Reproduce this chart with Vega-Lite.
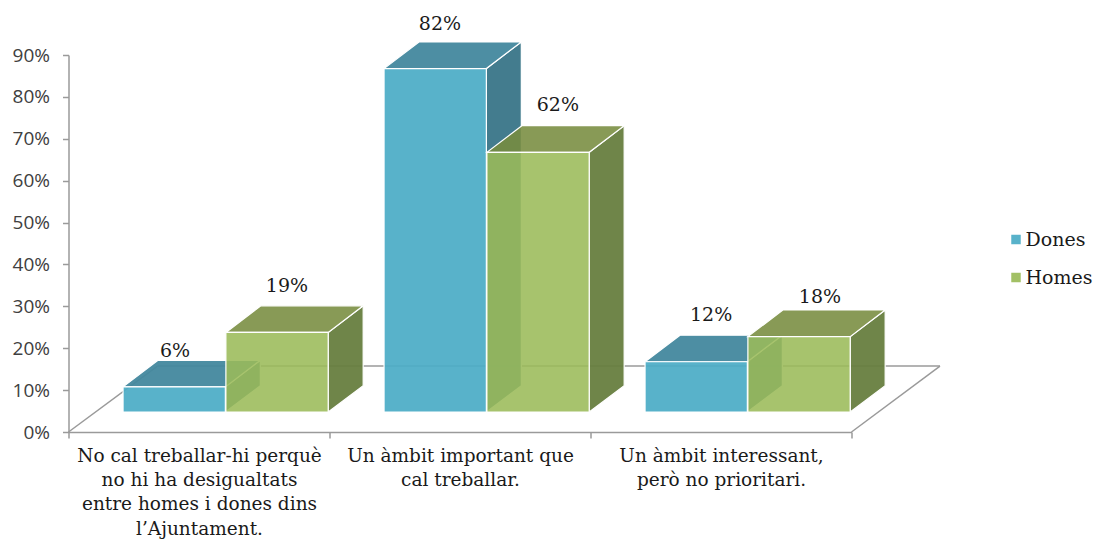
{
"$schema":"https://vega.github.io/schema/vega-lite/v6.json",
"width":783,"height":377,
"autosize":{"type":"none"},
"padding":{"left":68.5,"top":55,"right":242.5,"bottom":107},
"background":"white",
"config":{"view":{"stroke":null},"font":"DejaVu Serif"},
"data":{"values":[
{"ambit":"No cal treballar-hi","idx":0,"serie":"Dones","valor":0.06},
{"ambit":"Un àmbit important","idx":1,"serie":"Dones","valor":0.82},
{"ambit":"Un àmbit interessant","idx":2,"serie":"Dones","valor":0.12},
{"ambit":"No cal treballar-hi","idx":0,"serie":"Homes","valor":0.19},
{"ambit":"Un àmbit important","idx":1,"serie":"Homes","valor":0.62},
{"ambit":"Un àmbit interessant","idx":2,"serie":"Homes","valor":0.18}
]},
"transform":[
{"calculate":"datum.idx+(datum.serie==='Dones'?0.209:0.603)","as":"x0"},
{"calculate":"datum.x0+0.392","as":"x1"},
{"calculate":"datum.x1+0.134","as":"x1b"},
{"calculate":"0.0477","as":"yb"},
{"calculate":"0.1107","as":"ybb"},
{"calculate":"datum.valor+0.0477","as":"yt"},
{"calculate":"datum.yt+0.0635","as":"ytb"},
{"calculate":"(datum.serie==='Dones'?[0.408,1.423,2.462]:[0.837,1.875,2.879])[datum.idx]","as":"lx"},
{"calculate":"datum.yt+0.062+(datum.serie==='Dones'?[0.0236,0.044,0.049]:[0.049,0.05,0.032])[datum.idx]","as":"ly"}
],
"layer":[
{"data":{"values":[{}]},"mark":{"type":"rule","color":"#9a9a9a","strokeWidth":1.5},
 "encoding":{
  "x":{"datum":0,"type":"quantitative","title":null,"scale":{"domain":[0,3],"nice":false,"zero":false},
   "axis":{"values":[0,0.5,1,1.5,2,2.5,3],"grid":false,"title":null,"domainColor":"#9a9a9a","domainWidth":1.5,"tickColor":"#9a9a9a","tickWidth":1.5,"tickSize":6,
    "tickOpacity":{"condition":{"test":"datum.value%1!==0","value":0},"value":1},
    "labelFont":"DejaVu Serif","labelFontSize":18.5,"labelColor":"#1a1a1a","labelPadding":8.5,"labelLineHeight":24.2,"labelOverlap":false,"labelFlush":false,"labelBound":false,"labelAngle":0,"labelLimit":400,
    "labelExpr":"datum.value===0.5?['No cal treballar-hi perquè','no hi ha desigualtats','entre homes i dones dins','l’Ajuntament.']:datum.value===1.5?['Un àmbit important que','cal treballar.']:datum.value===2.5?['Un àmbit interessant,','però no prioritari.']:''"}},
  "x2":{"datum":0.341},
  "y":{"datum":0,"type":"quantitative","title":null,"scale":{"domain":[0,0.9],"nice":false,"zero":false},
   "axis":{"values":[0,0.1,0.2,0.3,0.4,0.5,0.6,0.7,0.8,0.9],"format":".0%","grid":false,"title":null,"domainColor":"#9a9a9a","domainWidth":1.5,"tickColor":"#9a9a9a","tickWidth":1.5,"tickSize":6,
    "labelFont":"Open Sans","labelFontSize":19,"labelColor":"#404040","labelPadding":13}},
  "y2":{"datum":0.1575}}},
{"data":{"values":[{}]},"mark":{"type":"rule","color":"#9a9a9a","strokeWidth":1.5},
 "encoding":{"x":{"datum":0.341,"type":"quantitative","scale":{"domain":[0,3],"nice":false,"zero":false}},"x2":{"datum":3.339},
  "y":{"datum":0.1575,"type":"quantitative","scale":{"domain":[0,0.9],"nice":false,"zero":false}}}},
{"data":{"values":[{}]},"mark":{"type":"rule","color":"#9a9a9a","strokeWidth":1.5},
 "encoding":{"x":{"datum":3,"type":"quantitative","scale":{"domain":[0,3],"nice":false,"zero":false}},"x2":{"datum":3.339},
  "y":{"datum":0,"type":"quantitative","scale":{"domain":[0,0.9],"nice":false,"zero":false}},"y2":{"datum":0.1575}}},

{"transform":[{"filter":"datum.serie==='Dones'"},{"fold":["x1","x1b"],"as":["k","xp"]},
  {"calculate":"datum.k==='x1'?datum.yb:datum.ybb","as":"ylo"},{"calculate":"datum.k==='x1'?datum.yt:datum.ytb","as":"yhi"}],
 "mark":{"type":"area","orient":"vertical","color":"#397588","fillOpacity":0.95,"stroke":"white","strokeWidth":1.2},
 "encoding":{"x":{"field":"xp","type":"quantitative","scale":{"domain":[0,3],"nice":false,"zero":false}},
  "y":{"field":"ylo","type":"quantitative","stack":null,"scale":{"domain":[0,0.9],"nice":false,"zero":false}},"y2":{"field":"yhi"},"detail":{"field":"idx"}}},
{"transform":[{"filter":"datum.serie==='Dones'"},{"fold":["yt","ytb"],"as":["k","yp"]},
  {"calculate":"datum.k==='yt'?datum.x0:datum.x0+0.134","as":"xl"},{"calculate":"datum.k==='yt'?datum.x1:datum.x1b","as":"xr"}],
 "mark":{"type":"area","orient":"horizontal","color":"#43889E","fillOpacity":0.95,"stroke":"white","strokeWidth":1.2},
 "encoding":{"y":{"field":"yp","type":"quantitative","scale":{"domain":[0,0.9],"nice":false,"zero":false}},
  "x":{"field":"xl","type":"quantitative","stack":null,"scale":{"domain":[0,3],"nice":false,"zero":false}},"x2":{"field":"xr"},"detail":{"field":"idx"}}},
{"transform":[{"filter":"datum.serie==='Dones'"}],
 "mark":{"type":"rect","fillOpacity":0.93,"stroke":"white","strokeWidth":1.2},
 "encoding":{"x":{"field":"x0","type":"quantitative","scale":{"domain":[0,3],"nice":false,"zero":false}},"x2":{"field":"x1"},
  "y":{"field":"yb","type":"quantitative","scale":{"domain":[0,0.9],"nice":false,"zero":false}},"y2":{"field":"yt"},
  "color":{"field":"serie","type":"nominal","scale":{"domain":["Dones","Homes"],"range":["#4BACC6","#9BBB59"]},
   "legend":{"title":null,"orient":"none","legendX":938,"legendY":175,"symbolType":"square","symbolSize":90,"symbolStrokeWidth":0,"symbolOpacity":0.93,"labelFont":"DejaVu Serif","labelFontSize":19,"labelColor":"#1a1a1a","rowPadding":18,"labelOffset":0,"labelLimit":120}}}},

{"transform":[{"filter":"datum.serie==='Homes'"},{"fold":["x1","x1b"],"as":["k","xp"]},
  {"calculate":"datum.k==='x1'?datum.yb:datum.ybb","as":"ylo"},{"calculate":"datum.k==='x1'?datum.yt:datum.ytb","as":"yhi"}],
 "mark":{"type":"area","orient":"vertical","color":"#677E3F","fillOpacity":0.95,"stroke":"white","strokeWidth":1.2},
 "encoding":{"x":{"field":"xp","type":"quantitative","scale":{"domain":[0,3],"nice":false,"zero":false}},
  "y":{"field":"ylo","type":"quantitative","stack":null,"scale":{"domain":[0,0.9],"nice":false,"zero":false}},"y2":{"field":"yhi"},"detail":{"field":"idx"}}},
{"transform":[{"filter":"datum.serie==='Homes'"},{"fold":["yt","ytb"],"as":["k","yp"]},
  {"calculate":"datum.k==='yt'?datum.x0:datum.x0+0.134","as":"xl"},{"calculate":"datum.k==='yt'?datum.x1:datum.x1b","as":"xr"}],
 "mark":{"type":"area","orient":"horizontal","color":"#778C3F","fillOpacity":0.88,"stroke":"white","strokeWidth":1.2},
 "encoding":{"y":{"field":"yp","type":"quantitative","scale":{"domain":[0,0.9],"nice":false,"zero":false}},
  "x":{"field":"xl","type":"quantitative","stack":null,"scale":{"domain":[0,3],"nice":false,"zero":false}},"x2":{"field":"xr"},"detail":{"field":"idx"}}},
{"transform":[{"filter":"datum.serie==='Homes'"}],
 "mark":{"type":"rect","fillOpacity":0.88,"stroke":"white","strokeWidth":1.2},
 "encoding":{"x":{"field":"x0","type":"quantitative","scale":{"domain":[0,3],"nice":false,"zero":false}},"x2":{"field":"x1"},
  "y":{"field":"yb","type":"quantitative","scale":{"domain":[0,0.9],"nice":false,"zero":false}},"y2":{"field":"yt"},
  "color":{"field":"serie","type":"nominal","scale":{"domain":["Dones","Homes"],"range":["#4BACC6","#9BBB59"]}}}},

{"mark":{"type":"text","font":"DejaVu Serif","fontSize":19,"color":"#1a1a1a","baseline":"middle","align":"center"},
 "encoding":{"x":{"field":"lx","type":"quantitative","scale":{"domain":[0,3],"nice":false,"zero":false}},
  "y":{"field":"ly","type":"quantitative","scale":{"domain":[0,0.9],"nice":false,"zero":false}},
  "text":{"field":"valor","type":"quantitative","format":".0%"}}}
]}
